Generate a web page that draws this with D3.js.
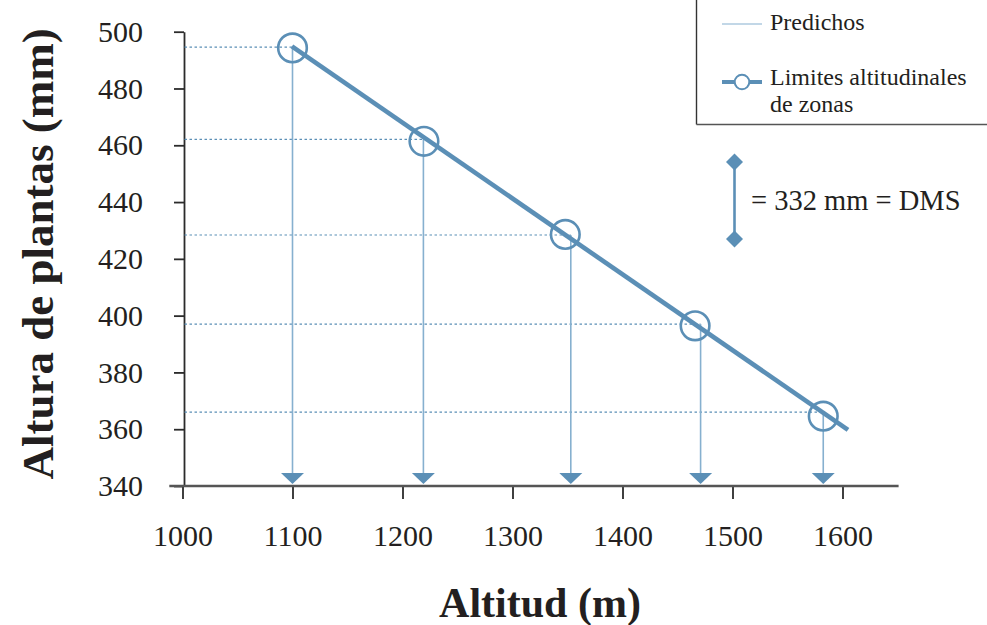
<!DOCTYPE html>
<html>
<head>
<meta charset="utf-8">
<script src="https://cdn.jsdelivr.net/npm/d3@7/dist/d3.min.js"></script>
<style>
  html, body { margin: 0; padding: 0; background: #fff; }
  svg { display: block; }
  text { font-family: "Liberation Serif", "DejaVu Serif", serif; fill: #231f20; }
</style>
</head>
<body>
<svg id="chart" width="987" height="625"></svg>
<script>
// ---- data ----
const xTicks = [1000, 1100, 1200, 1300, 1400, 1500, 1600];
const yTicks = [340, 360, 380, 400, 420, 440, 460, 480, 500];
const xAxisExtent = [988, 1651];

// zone limits (arrow / guide positions)
const zoneAltitudes = [1100, 1219, 1353, 1471, 1582.5];
const zoneHeights   = [494.6, 462.1, 428.4, 397.0, 366.0];

// circle markers of "Limites altitudinales de zonas"
const circleAltitudes = [1100, 1219.5, 1348, 1466, 1582.5];
const circleHeights   = [494.3, 461.4, 428.6, 396.4, 364.6];

// predicted regression line end points
const lineAltitudes = [1099.5, 1605];
const lineHeights   = [494.8, 359.8];

const dmsLabel = "= 332 mm = DMS";
const legendLabels = ["Predichos", "Limites altitudinales", "de zonas"];

// ---- chart ----
const svg = d3.select("#chart");
const blue = "#5b8fb6";
const lightBlue = "#86b0cf";

const x = d3.scaleLinear().domain([1000, 1600]).range([182.5, 842.5]);
const y = d3.scaleLinear().domain([340, 500]).range([486, 31.7]);

// y axis
const yAxis = svg.append("g")
  .attr("transform", `translate(${x(1000) + 1.5},0)`)
  .call(d3.axisLeft(y).tickValues(yTicks).tickSize(10).tickSizeOuter(0).tickPadding(31));
yAxis.select(".domain").attr("stroke", "#2b2b2b").attr("stroke-width", 1.8);
yAxis.selectAll(".tick line").attr("stroke", "#2b2b2b").attr("stroke-width", 1.8);
yAxis.selectAll(".tick text").style("font-size", "30px").attr("fill", "#231f20")
  .style("font-family", "Liberation Serif, serif");

// x axis
const xAxis = svg.append("g")
  .attr("transform", `translate(0,${y(340)})`)
  .call(d3.axisBottom(x).tickValues(xTicks).tickSize(13).tickSizeOuter(0).tickPadding(26).tickFormat(d3.format("d")));
xAxis.select(".domain").remove();
xAxis.selectAll(".tick line").attr("stroke", "#2b2b2b").attr("stroke-width", 1.8);
xAxis.selectAll(".tick text").style("font-size", "30px").attr("fill", "#231f20")
  .style("font-family", "Liberation Serif, serif");
svg.append("line")
  .attr("x1", x(xAxisExtent[0])).attr("x2", x(xAxisExtent[1]))
  .attr("y1", y(340)).attr("y2", y(340))
  .attr("stroke", "#555").attr("stroke-width", 2.4);

// dotted horizontal guides
svg.append("g").selectAll("line").data(zoneAltitudes).join("line")
  .attr("x1", x(1000) + 2).attr("x2", d => x(d))
  .attr("y1", (d, i) => y(zoneHeights[i])).attr("y2", (d, i) => y(zoneHeights[i]))
  .attr("stroke", blue).attr("stroke-width", 1.2).attr("stroke-dasharray", "2.5,2.5");

// vertical arrows
svg.append("g").selectAll("line").data(zoneAltitudes).join("line")
  .attr("x1", d => x(d)).attr("x2", d => x(d))
  .attr("y1", (d, i) => y(zoneHeights[i])).attr("y2", y(340) - 12)
  .attr("stroke", lightBlue).attr("stroke-width", 1.6);
svg.append("g").selectAll("path").data(zoneAltitudes).join("path")
  .attr("d", d => {
    const cx = x(d), tip = y(340) - 2, top = tip - 11;
    return `M${cx - 11.5},${top} L${cx + 11.5},${top} L${cx},${tip} Z`;
  })
  .attr("fill", blue);

// regression line
svg.append("line")
  .attr("x1", x(lineAltitudes[0])).attr("y1", y(lineHeights[0]))
  .attr("x2", x(lineAltitudes[1])).attr("y2", y(lineHeights[1]))
  .attr("stroke", blue).attr("stroke-width", 4.6);

// circles
svg.append("g").selectAll("circle").data(circleAltitudes).join("circle")
  .attr("cx", d => x(d)).attr("cy", (d, i) => y(circleHeights[i]))
  .attr("r", 14.3).attr("fill", "none").attr("stroke", blue).attr("stroke-width", 2.6);

// axis titles
svg.append("text")
  .attr("x", 540).attr("y", 617).attr("text-anchor", "middle")
  .style("font-size", "42px").style("font-weight", "bold")
  .text("Altitud (m)");
svg.append("text")
  .attr("transform", "translate(53,254) rotate(-90)").attr("text-anchor", "middle")
  .style("font-size", "45px").style("font-weight", "bold")
  .text("Altura de plantas (mm)");

// legend box
const lg = svg.append("g");
lg.append("line").attr("x1", 696.5).attr("x2", 696.5).attr("y1", 0).attr("y2", 124.5)
  .attr("stroke", "#333").attr("stroke-width", 1.4);
lg.append("line").attr("x1", 696.5).attr("x2", 987).attr("y1", 124.5).attr("y2", 124.5)
  .attr("stroke", "#555").attr("stroke-width", 1.6);
lg.append("line").attr("x1", 722).attr("x2", 762).attr("y1", 24).attr("y2", 24)
  .attr("stroke", lightBlue).attr("stroke-width", 1.2);
lg.append("text").attr("x", 770).attr("y", 30).style("font-size", "24px").text(legendLabels[0]);
lg.append("line").attr("x1", 722).attr("x2", 762).attr("y1", 82).attr("y2", 82)
  .attr("stroke", blue).attr("stroke-width", 4);
lg.append("circle").attr("cx", 742).attr("cy", 82).attr("r", 7.3)
  .attr("fill", "#fff").attr("stroke", blue).attr("stroke-width", 2);
lg.append("text").attr("x", 770).attr("y", 84.5).style("font-size", "24px").text(legendLabels[1]);
lg.append("text").attr("x", 770).attr("y", 112).style("font-size", "24px").text(legendLabels[2]);

// DMS bracket
const dms = svg.append("g");
dms.append("line").attr("x1", 734.5).attr("x2", 734.5).attr("y1", 162).attr("y2", 239)
  .attr("stroke", blue).attr("stroke-width", 2.6);
[162, 239].forEach(cy => {
  dms.append("path")
    .attr("d", `M734.5,${cy - 8.5} L743,${cy} L734.5,${cy + 8.5} L726,${cy} Z`)
    .attr("fill", blue);
});
dms.append("text").attr("x", 751).attr("y", 210).style("font-size", "28.5px").text(dmsLabel);
</script>
</body>
</html>
